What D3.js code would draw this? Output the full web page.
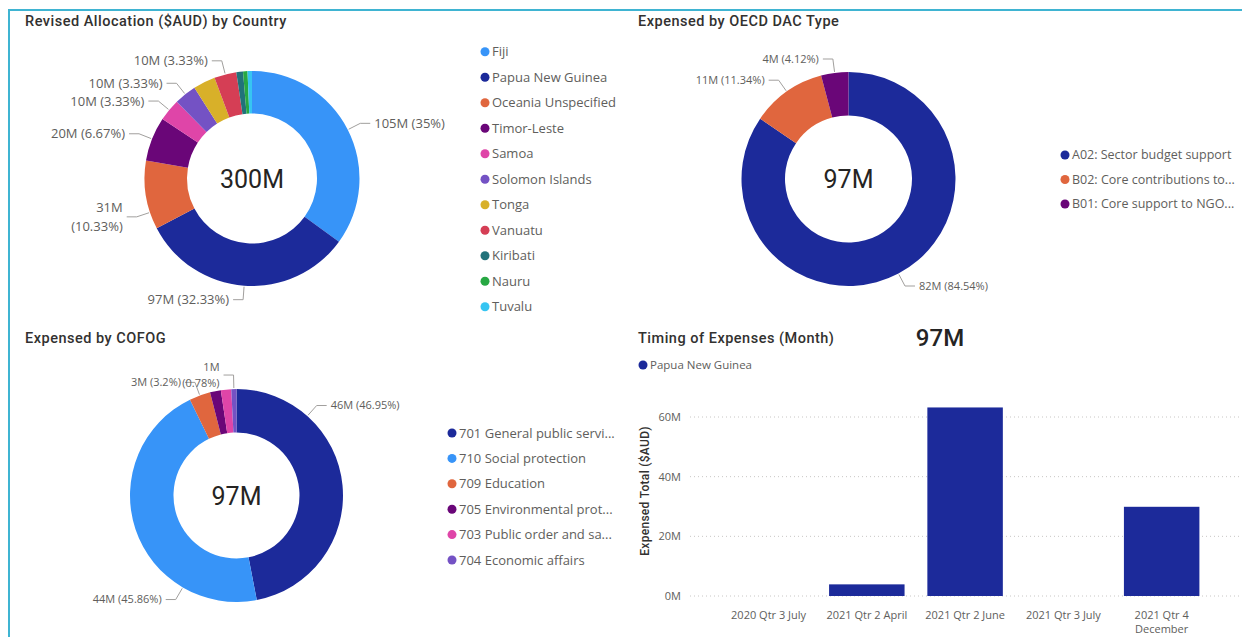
<!DOCTYPE html>
<html>
<head>
<meta charset="utf-8">
<script src="https://cdn.jsdelivr.net/npm/d3@7"></script>
<style>
  body { margin: 0; background: #fff; }
  svg text { font-family: "Open Sans", sans-serif; }
  .title { font-family: Roboto, sans-serif; font-weight: 500; font-size: 14.5px; letter-spacing: 0.5px; fill: #323130; }
  .center-total { font-family: Roboto, sans-serif; font-size: 25px; fill: #252423; }
  .card { font-family: Roboto, sans-serif; font-weight: 500; font-size: 24px; fill: #252423; }
  .data-label { fill: #605e5c; }
  .legend text { fill: #605e5c; }
  .leader { fill: none; stroke: #a19f9d; stroke-width: 1; }
  .axis text { font-family: "Open Sans", sans-serif; font-size: 11px; fill: #605e5c; }
  .grid line { stroke: #c8c6c4; stroke-dasharray: 1,3; }
  .y-title { font-family: Roboto, sans-serif; font-weight: 500; font-size: 12px; letter-spacing: 0.3px; fill: #323130; }
</style>
</head>
<body>
<svg id="dash" width="1242" height="637"></svg>
<script>
// ---- data (values in $AUD millions) ----
const countries = ["Fiji", "Papua New Guinea", "Oceania Unspecified", "Timor-Leste", "Samoa",
    "Solomon Islands", "Tonga", "Vanuatu", "Kiribati", "Nauru", "Tuvalu"];
const countryValues = [105, 97, 31, 20, 10, 10, 10, 10, 3, 2, 2];
const countryColors = ["#3794f8", "#1c2a9a", "#e0663e", "#6a0678", "#df45a8",
    "#7452c4", "#d8b029", "#d53e55", "#21727a", "#27a843", "#36c5f2"];
const countryLabelled = ["Fiji", "Papua New Guinea", "Oceania Unspecified", "Timor-Leste",
    "Samoa", "Solomon Islands", "Vanuatu"];

const dacTypes = ["A02: Sector budget support", "B02: Core contributions to...", "B01: Core support to NGO..."];
const dacValues = [82, 11, 4];
const dacColors = ["#1c2a9a", "#e0663e", "#6a0678"];

const cofogTypes = ["701 General public servi...", "710 Social protection", "709 Education",
    "705 Environmental prot...", "703 Public order and sa...", "704 Economic affairs"];
const cofogValues = [45.54, 44.48, 3.10, 1.60, 1.52, 0.76];
const cofogColors = ["#1c2a9a", "#3794f8", "#e0663e", "#6a0678", "#df45a8", "#7452c4"];
const cofogLabelled = ["701 General public servi...", "710 Social protection", "709 Education", "704 Economic affairs"];

const months = ["2020 Qtr 3 July", "2021 Qtr 2 April", "2021 Qtr 2 June", "2021 Qtr 3 July", "2021 Qtr 4 December"];
const monthValues = [0, 3.9, 63.2, 0, 29.9];
const yTicks = [0, 20, 40, 60];
const barSeries = "Papua New Guinea";

const svg = d3.select('#dash');
const fmtM = v => Math.round(v) + 'M';
const fmtPct = d3.format('.2~f');

// frame
svg.append('path')
    .attr('d', 'M9,637V10H1242')
    .attr('fill', 'none')
    .attr('stroke', '#3fb4d2')
    .attr('stroke-width', 2);

// titles
const titles = [
    {text: 'Revised Allocation ($AUD) by Country', x: 25, y: 21},
    {text: 'Expensed by OECD DAC Type', x: 638, y: 21},
    {text: 'Expensed by COFOG', x: 25, y: 338},
    {text: 'Timing of Expenses (Month)', x: 638, y: 338}
];
svg.selectAll('.title').data(titles).join('text')
    .attr('class', 'title')
    .attr('x', d => d.x).attr('y', d => d.y)
    .attr('dy', '0.35em')
    .text(d => d.text);

function drawDonut(opt) {
    const rows = opt.names.map((n, i) => ({name: n, value: opt.values[i], color: opt.colors[i]}));
    const total = d3.sum(opt.values);

    const g = svg.append('g').attr('transform', `translate(${opt.cx},${opt.cy})`);
    const arcs = d3.pie().sort(null).value(d => d.value)(rows);
    const arc = d3.arc().innerRadius(opt.r0).outerRadius(opt.r1);

    g.selectAll('path.slice').data(arcs).join('path')
        .attr('class', 'slice')
        .attr('d', arc)
        .attr('fill', d => d.data.color);

    g.append('text')
        .attr('class', 'center-total')
        .attr('text-anchor', 'middle')
        .attr('dy', '0.36em')
        .text(fmtM(total));

    // data labels with elbow leader lines
    arcs.filter(d => opt.labelled.includes(d.data.name)).forEach(d => {
        const fixed = opt.labelAngle[d.data.name];
        const ang = fixed != null ? fixed * Math.PI / 180 : (d.startAngle + d.endAngle) / 2;
        const s = Math.sin(ang), c = -Math.cos(ang);
        const p0 = [s * (opt.r1 + 1), c * (opt.r1 + 1)];
        const p1 = [s * (opt.r1 + 14), c * (opt.r1 + 14)];
        const dir = s >= 0 ? 1 : -1;
        const p2 = [p1[0] + dir * 10, p1[1]];
        g.append('path').attr('class', 'leader').attr('d', d3.line()([p0, p1, p2]));

        const pct = fmtPct(d.data.value / total * 100);
        const lines = opt.wrap.includes(d.data.name)
            ? [fmtM(d.data.value), `(${pct}%)`]
            : [`${fmtM(d.data.value)} (${pct}%)`];
        const lh = opt.labelSize * 1.45;
        const t = g.append('text')
            .attr('class', 'data-label')
            .style('font-size', opt.labelSize + 'px')
            .attr('text-anchor', dir > 0 ? 'start' : 'end');
        lines.forEach((str, i) => {
            t.append('tspan')
                .attr('x', p2[0] + dir * 4)
                .attr('y', p1[1] + (i - (lines.length - 1) / 2) * lh)
                .attr('dy', '0.35em')
                .text(str);
        });
    });

    // legend
    const lg = svg.append('g').attr('class', 'legend')
        .attr('transform', `translate(${opt.legend.x},${opt.legend.y})`);
    const items = lg.selectAll('g').data(rows).join('g')
        .attr('transform', (d, i) => `translate(0,${i * opt.legend.step})`);
    items.append('circle').attr('r', 4.5).attr('fill', d => d.color);
    items.append('text')
        .attr('x', 7)
        .attr('dy', '0.35em')
        .style('font-size', opt.legend.size + 'px')
        .text(d => d.name);
}

drawDonut({
    names: countries, values: countryValues, colors: countryColors, labelled: countryLabelled,
    cx: 252, cy: 178.5, r0: 65, r1: 107.5, labelSize: 13,
    labelAngle: {"Oceania Unspecified": 251.6}, wrap: ["Oceania Unspecified"],
    legend: {x: 485, y: 51.7, step: 25.5, size: 13}
});

drawDonut({
    names: dacTypes, values: dacValues, colors: dacColors, labelled: dacTypes,
    cx: 848.5, cy: 179, r0: 63.5, r1: 107, labelSize: 11,
    labelAngle: {}, wrap: [],
    legend: {x: 1065, y: 155, step: 24.5, size: 12.5}
});

drawDonut({
    names: cofogTypes, values: cofogValues, colors: cofogColors, labelled: cofogLabelled,
    cx: 236.5, cy: 495.5, r0: 63, r1: 106.5, labelSize: 11,
    labelAngle: {"701 General public servi...": 41.7, "710 Social protection": 210.3},
    wrap: ["704 Economic affairs"],
    legend: {x: 452, y: 433, step: 25.4, size: 13}
});

// ---- bar chart: timing of expenses ----
const plotLeft = 690, plotRight = 1240;
const by = d3.scaleLinear().domain([0, 60]).range([596, 417]);
const bx = d3.scaleBand().domain(months).range([719.4, 1210.8])
    .paddingInner(0.232).paddingOuter(0.116);

svg.append('g').attr('class', 'grid')
    .selectAll('line').data(yTicks).join('line')
    .attr('x1', plotLeft).attr('x2', plotRight)
    .attr('y1', d => by(d)).attr('y2', d => by(d));

svg.append('g').selectAll('rect').data(months).join('rect')
    .attr('x', d => bx(d))
    .attr('width', bx.bandwidth())
    .attr('y', (d, i) => by(monthValues[i]))
    .attr('height', (d, i) => by(0) - by(monthValues[i]))
    .attr('fill', '#1c2a9a');

svg.append('g').attr('class', 'axis')
    .attr('transform', `translate(${plotLeft},0)`)
    .call(d3.axisLeft(by).tickValues(yTicks).tickFormat(d => d + 'M').tickSize(0).tickPadding(9))
    .call(g => g.select('.domain').remove());

svg.append('g').attr('class', 'axis')
    .attr('transform', `translate(0,${by(0)})`)
    .call(d3.axisBottom(bx).tickSize(0).tickPadding(15))
    .call(g => g.select('.domain').remove())
    .selectAll('.tick text').call(wrap, bx.step());

function wrap(text, width) {
    text.each(function() {
        const t = d3.select(this);
        const words = t.text().split(/\s+/);
        const y = t.attr('y'), dy = parseFloat(t.attr('dy'));
        let line = [], lineNo = 0;
        let tspan = t.text(null).append('tspan').attr('x', 0).attr('y', y).attr('dy', dy + 'em');
        words.forEach(w => {
            line.push(w);
            tspan.text(line.join(' '));
            if (tspan.node().getComputedTextLength() > width && line.length > 1) {
                line.pop();
                tspan.text(line.join(' '));
                line = [w];
                tspan = t.append('tspan').attr('x', 0).attr('y', y)
                    .attr('dy', (++lineNo * 1.3 + dy) + 'em').text(w);
            }
        });
    });
}

svg.append('text')
    .attr('class', 'y-title')
    .attr('transform', 'translate(645,491) rotate(-90)')
    .attr('text-anchor', 'middle')
    .attr('dy', '0.35em')
    .text('Expensed Total ($AUD)');

// total card
svg.append('text')
    .attr('class', 'card')
    .attr('x', 940).attr('y', 337)
    .attr('text-anchor', 'middle')
    .attr('dy', '0.36em')
    .text(fmtM(d3.sum(monthValues)));

// series legend
const bl = svg.append('g').attr('class', 'legend').attr('transform', 'translate(643,365)');
bl.append('circle').attr('r', 4.5).attr('fill', '#1c2a9a');
bl.append('text').attr('x', 7).attr('dy', '0.35em').style('font-size', '11.5px').text(barSeries);
</script>
</body>
</html>
